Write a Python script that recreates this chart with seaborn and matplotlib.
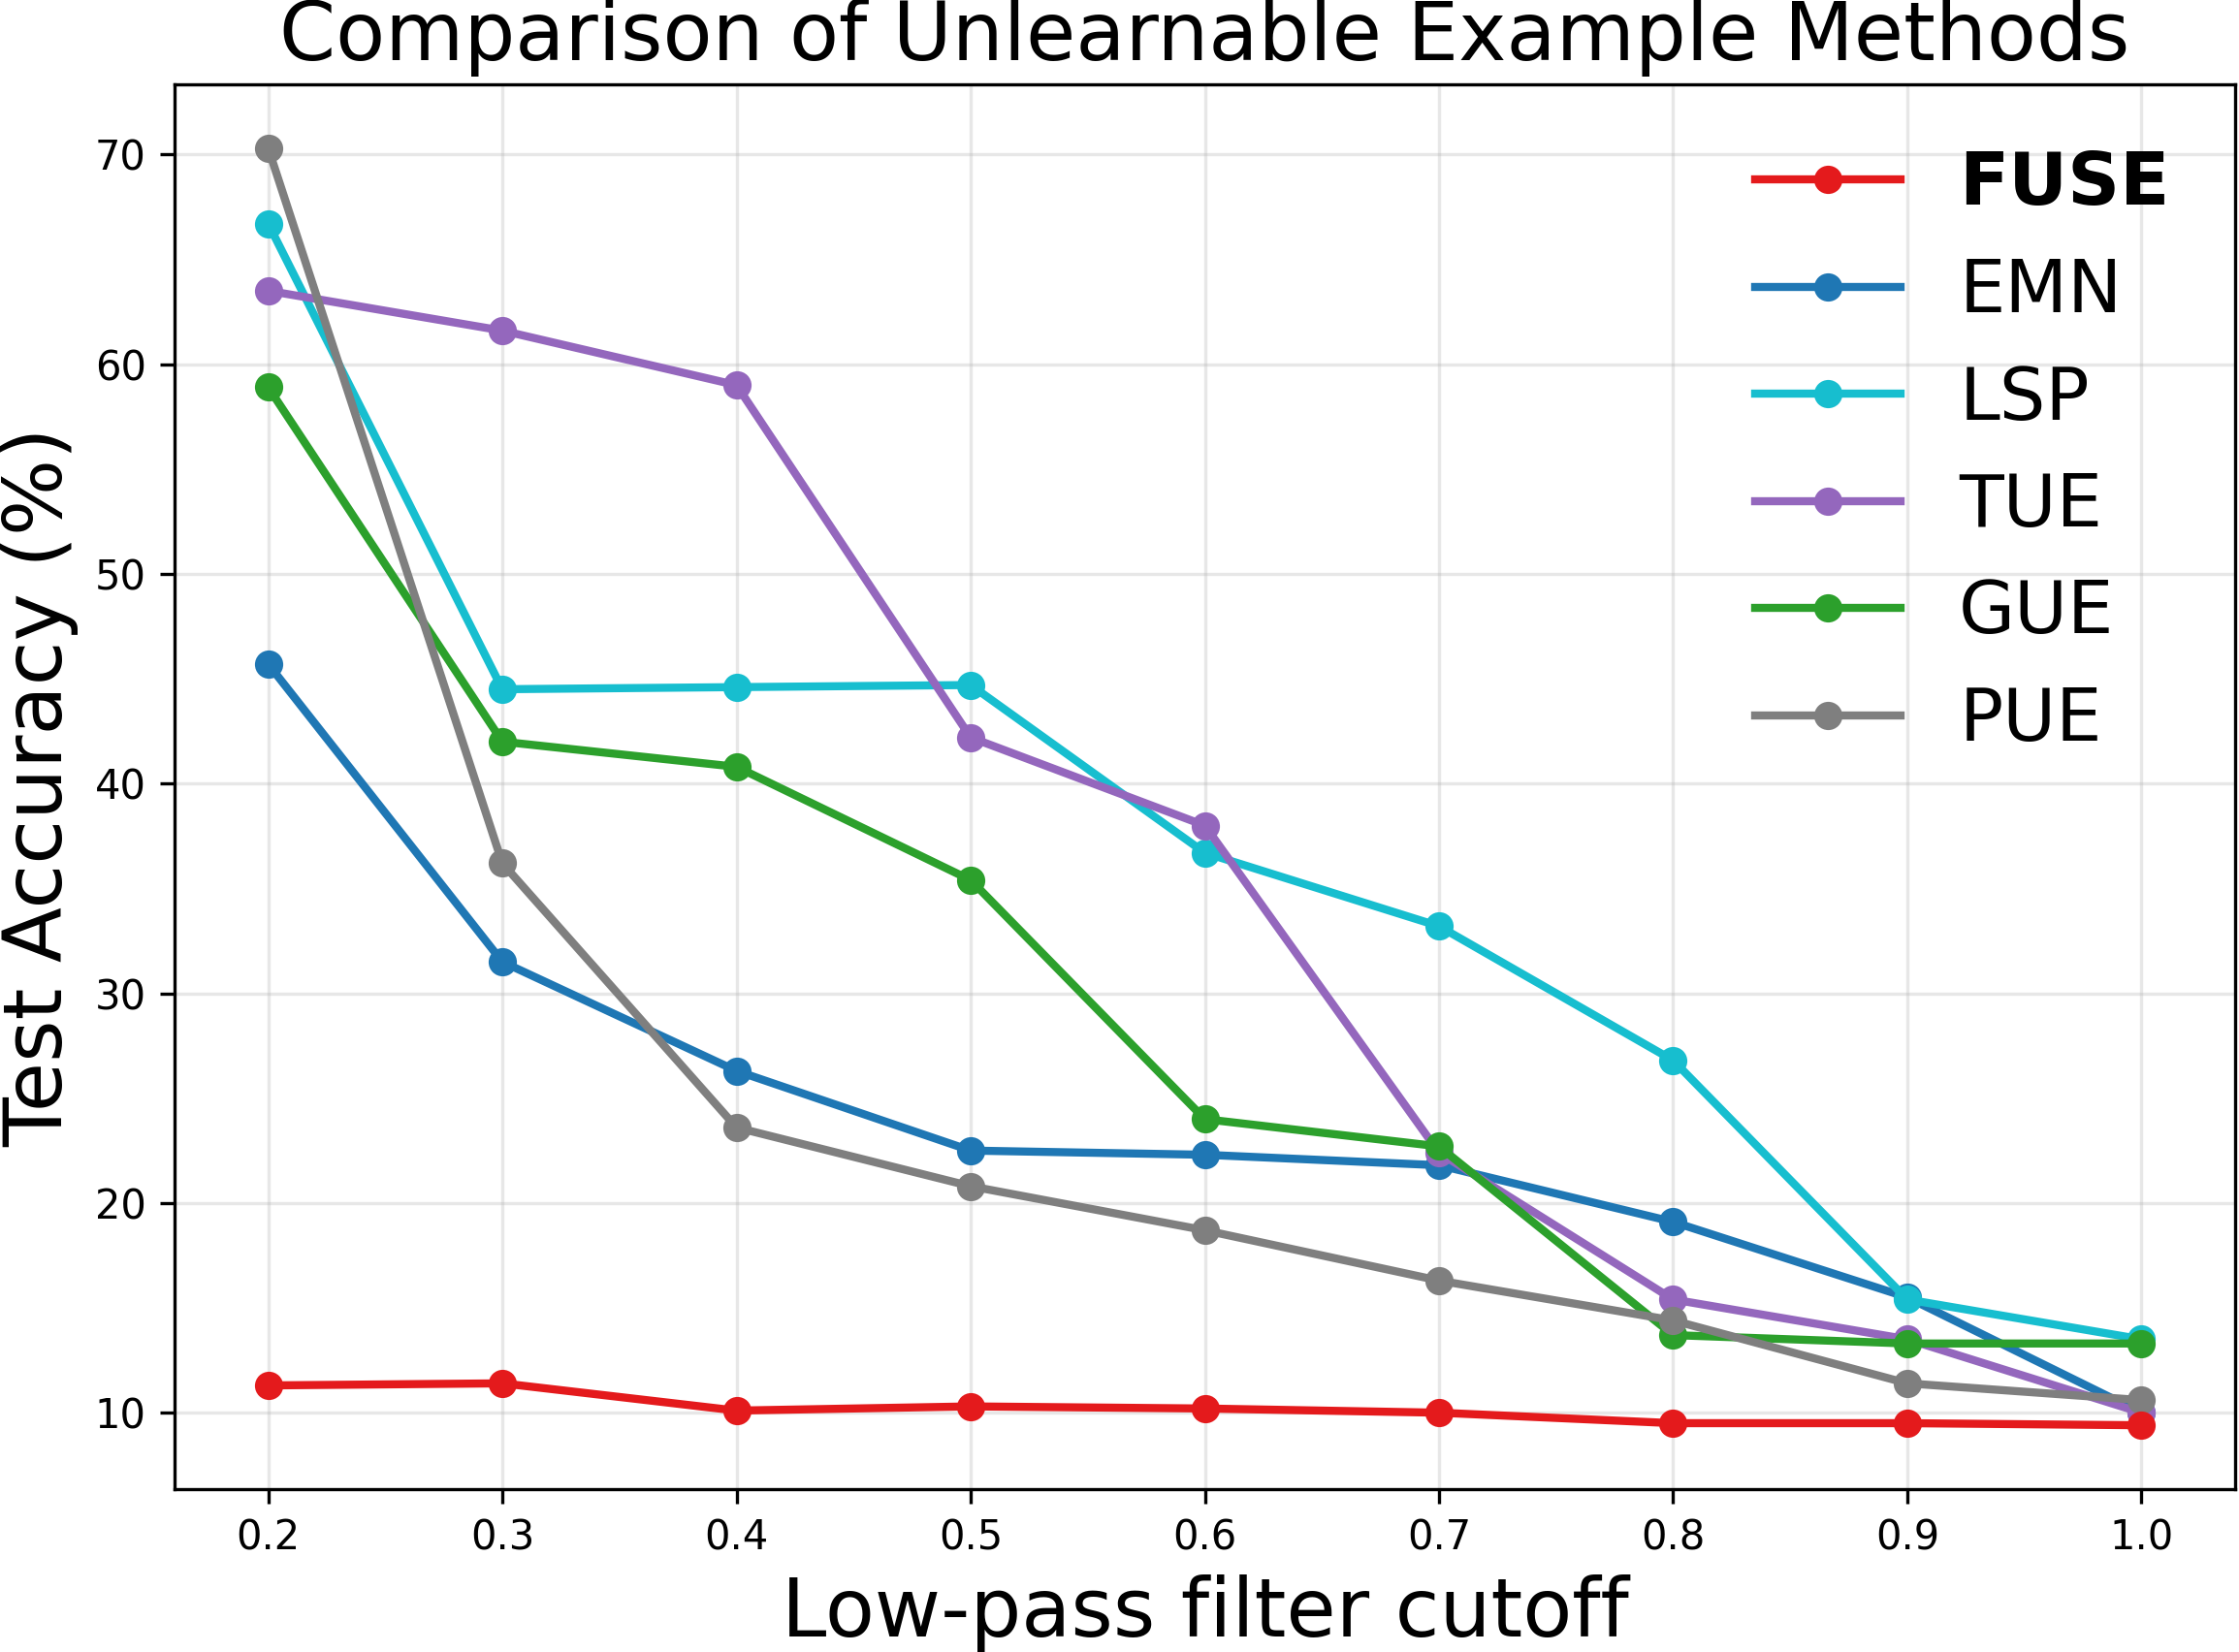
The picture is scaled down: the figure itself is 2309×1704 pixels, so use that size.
import matplotlib
matplotlib.use("Agg")
import matplotlib.pyplot as plt
import seaborn as sns
import pandas as pd

cutoffs = [0.2, 0.3, 0.4, 0.5, 0.6, 0.7, 0.8, 0.9, 1.0]
methods = ["FUSE", "EMN", "LSP", "TUE", "GUE", "PUE"]
fuse = [11.3, 11.4, 10.1, 10.3, 10.2, 10.0, 9.5, 9.5, 9.4]
emn = [45.7, 31.5, 26.3, 22.5, 22.3, 21.8, 19.1, 15.5, 10.0]
lsp = [66.7, 44.5, 44.6, 44.7, 36.7, 33.2, 26.8, 15.4, 13.5]
tue = [63.5, 61.6, 59.0, 42.2, 38.0, 22.4, 15.4, 13.5, 10.0]
gue = [58.9, 42.0, 40.8, 35.4, 24.0, 22.7, 13.7, 13.3, 13.3]
pue = [70.3, 36.2, 23.6, 20.8, 18.7, 16.3, 14.4, 11.4, 10.6]
colors = ["#e41a1c", "#1f77b4", "#17becf", "#9467bd", "#2ca02c", "#7f7f7f"]
yticks = [10, 20, 30, 40, 50, 60, 70]

series = dict(zip(methods, [fuse, emn, lsp, tue, gue, pue]))
rows = []
for m in methods:
    for x, v in zip(cutoffs, series[m]):
        rows.append({"cutoff": x, "acc": v, "Method": m})
df = pd.DataFrame(rows)

fig = plt.figure(figsize=(2309 / 300, 1704 / 300), dpi=300)
ax = fig.add_axes([180 / 2309, 1 - 1536 / 1704, (2305 - 180) / 2309, (1536 - 87) / 1704])

sns.lineplot(data=df, x="cutoff", y="acc", hue="Method", hue_order=methods,
             palette=dict(zip(methods, colors)), marker="o", markersize=7,
             markeredgewidth=0, linewidth=2, ax=ax, legend=False)
ax.lines[0].set_zorder(3)

ax.set_xticks(cutoffs)
ax.set_xticklabels([f"{c:.1f}" for c in cutoffs])
ax.set_yticks(yticks)
ax.tick_params(labelsize=10)
ax.grid(True, alpha=0.3)
ax.set_xlabel("Low-pass filter cutoff", fontsize=20)
ax.set_ylabel("Test Accuracy (%)", fontsize=20)
ax.set_title("Comparison of Unlearnable Example Methods", fontsize=20)

handles = ax.lines[:len(methods)]
leg = ax.legend(handles, methods, loc="upper right", frameon=False, fontsize=18)
leg.get_texts()[0].set_fontweight("bold")

fig.savefig("out.png", dpi=300)
